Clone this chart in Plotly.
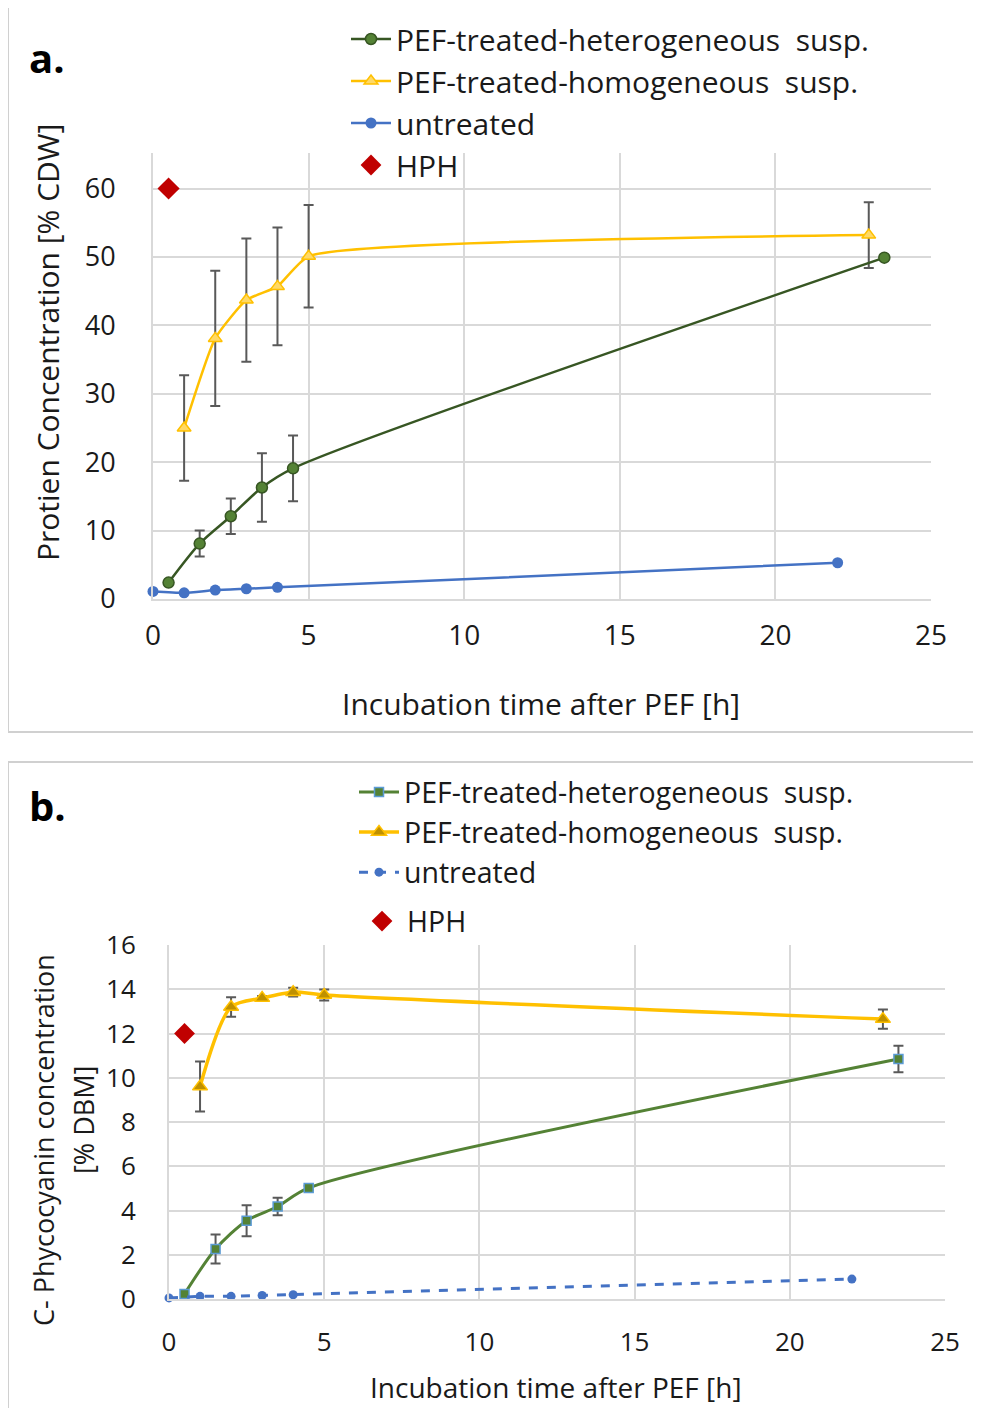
import plotly.graph_objects as go

# page body has an 8px margin, so the figure is sized to the remaining viewport
OX, OY = 8, 8
W, H = 981 - OX, 1408 - OY

# ---------------- data: panel a (protein) ----------------
a_het_x = [0.5, 1.5, 2.5, 3.5, 4.5, 23.5]
a_het_y = [2.4, 8.1, 12.1, 16.3, 19.1, 49.9]
a_het_err = [0, 1.9, 2.6, 5.0, 4.8, 0]

a_hom_x = [1, 2, 3, 4, 5, 23]
a_hom_y = [25.0, 38.1, 43.7, 45.7, 50.1, 53.2]
a_hom_err = [7.7, 9.9, 9.0, 8.6, 7.5, 4.8]

a_unt_x = [0, 1, 2, 3, 4, 22]
a_unt_y = [1.1, 0.9, 1.3, 1.5, 1.7, 5.3]

a_hph_x = [0.5]
a_hph_y = [60]

# ---------------- data: panel b (C-phycocyanin) ----------------
b_het_x = [0.5, 1.5, 2.5, 3.5, 4.5, 23.5]
b_het_y = [0.23, 2.26, 3.54, 4.18, 5.02, 10.85]
b_het_err = [0, 0.66, 0.7, 0.4, 0.1, 0.6]

b_hom_x = [1, 2, 3, 4, 5, 23]
b_hom_y = [9.6, 13.2, 13.6, 13.87, 13.74, 12.65]
b_hom_err = [1.13, 0.44, 0.1, 0.2, 0.25, 0.43]

b_unt_x = [0, 1, 2, 3, 4, 22]
b_unt_y = [0.05, 0.12, 0.12, 0.16, 0.19, 0.9]

b_hph_x = [0.5]
b_hph_y = [12.0]

x_ticks = [0, 5, 10, 15, 20, 25]
a_y_ticks = [0, 10, 20, 30, 40, 50, 60]
b_y_ticks = [0, 2, 4, 6, 8, 10, 12, 14, 16]

names = ["PEF-treated-heterogeneous\u00a0 susp.", "PEF-treated-homogeneous\u00a0 susp.",
         "untreated", "HPH"]

FONT = "Open Sans"
TXT = "#1a1a1a"
GRID = "#d9d9d9"
ERR = "#595959"


def fx(px):
    return (px - OX) / W


def fy(py):
    return 1 - (py - OY) / H


fig = go.Figure()


def err_trace(x, y, e, xa, ya):
    xs = [xi for xi, ei in zip(x, e) if ei > 0]
    ys = [yi for yi, ei in zip(y, e) if ei > 0]
    es = [ei for ei in e if ei > 0]
    return go.Scatter(x=xs, y=ys, mode="markers", marker=dict(size=1, color="rgba(0,0,0,0)"),
                      error_y=dict(type="data", array=es, visible=True, color=ERR,
                                   thickness=2, width=5),
                      xaxis=xa, yaxis=ya, showlegend=False, hoverinfo="skip", cliponaxis=False)


# ---- panel a ----
fig.add_trace(err_trace(a_hom_x, a_hom_y, a_hom_err, "x", "y"))
fig.add_trace(err_trace(a_het_x, a_het_y, a_het_err, "x", "y"))
fig.add_trace(go.Scatter(x=a_het_x, y=a_het_y, mode="lines+markers", name=names[0],
                         line=dict(color="#375623", width=2.5, shape="spline", smoothing=0.8),
                         marker=dict(symbol="circle", size=11, color="#548235",
                                     line=dict(color="#375623", width=1.5)),
                         xaxis="x", yaxis="y", legend="legend", legendgroup="a1", cliponaxis=False))
fig.add_trace(go.Scatter(x=a_hom_x, y=a_hom_y, mode="lines+markers", name=names[1],
                         line=dict(color="#FFC000", width=2.5, shape="spline", smoothing=0.5),
                         marker=dict(symbol="triangle-up", size=12, color="#FFD966",
                                     line=dict(color="#FFC000", width=1.5)),
                         xaxis="x", yaxis="y", legend="legend", legendgroup="a2", cliponaxis=False))
fig.add_trace(go.Scatter(x=a_unt_x, y=a_unt_y, mode="lines+markers", name=names[2],
                         line=dict(color="#4472C4", width=2.5, shape="spline", smoothing=0.5),
                         marker=dict(symbol="circle", size=11, color="#4472C4"),
                         xaxis="x", yaxis="y", legend="legend", legendgroup="a3", cliponaxis=False))
fig.add_trace(go.Scatter(x=a_hph_x, y=a_hph_y, mode="markers", name=names[3],
                         marker=dict(symbol="diamond", size=17, color="#C00000"),
                         xaxis="x", yaxis="y", legend="legend", legendgroup="a4", cliponaxis=False))

# ---- panel b ----
fig.add_trace(err_trace(b_hom_x, b_hom_y, b_hom_err, "x2", "y2"))
fig.add_trace(err_trace(b_het_x, b_het_y, b_het_err, "x2", "y2"))
fig.add_trace(go.Scatter(x=b_het_x, y=b_het_y, mode="lines+markers", name=names[0],
                         line=dict(color="#548235", width=3, shape="spline", smoothing=0.8),
                         marker=dict(symbol="square", size=9, color="#548235",
                                     line=dict(color="#5B9BD5", width=1.5)),
                         xaxis="x2", yaxis="y2", legend="legend2", legendgroup="b1", cliponaxis=False))
fig.add_trace(go.Scatter(x=b_hom_x, y=b_hom_y, mode="lines+markers", name=names[1],
                         line=dict(color="#FFC000", width=3.5, shape="spline", smoothing=0.8),
                         marker=dict(symbol="triangle-up", size=13, color="#BF9000",
                                     line=dict(color="#FFC000", width=1.5)),
                         xaxis="x2", yaxis="y2", legend="legend2", legendgroup="b2", cliponaxis=False))
fig.add_trace(go.Scatter(x=b_unt_x, y=b_unt_y, mode="lines+markers", name=names[2],
                         line=dict(color="#4472C4", width=3, dash="dash"),
                         marker=dict(symbol="circle", size=9, color="#4472C4"),
                         xaxis="x2", yaxis="y2", legend="legend2", legendgroup="b3", cliponaxis=False))
fig.add_trace(go.Scatter(x=b_hph_x, y=b_hph_y, mode="markers", name=names[3],
                         marker=dict(symbol="diamond", size=16, color="#C00000"),
                         xaxis="x2", yaxis="y2", legend="legend3", legendgroup="b4", cliponaxis=False))

axis_common = dict(showgrid=True, gridcolor=GRID, gridwidth=2, zeroline=False,
                   showline=True, linecolor=GRID, linewidth=2, ticks="", automargin=False)

# plot area pixel bounds (page coordinates)
A = dict(l=153, r=931, t=153, b=599)
B = dict(l=169, r=945, t=945, b=1299)


def ann(text, x, y, size, angle=0, bold=False):
    return dict(text=text, x=fx(x), y=fy(y), xref="paper", yref="paper", showarrow=False,
                xanchor="center", yanchor="middle", textangle=angle,
                font=dict(family=FONT, size=size, color="#000" if bold else TXT))


leg_common = dict(xanchor="left", yanchor="top", bgcolor="rgba(0,0,0,0)", itemwidth=40,
                  traceorder="normal")

fig.update_layout(
    template="none",
    width=W, height=H,
    margin=dict(l=0, r=0, t=0, b=0, pad=0, autoexpand=False),
    paper_bgcolor="white", plot_bgcolor="white",
    font=dict(family=FONT, color=TXT),
    xaxis=dict(domain=[fx(A["l"]), fx(A["r"])], range=[0, 25], tickvals=x_ticks,
               tickfont=dict(size=28, color=TXT), ticklabelstandoff=10, anchor="y", **axis_common),
    yaxis=dict(domain=[fy(A["b"]), fy(A["t"])], range=[0, 65.2], tickvals=a_y_ticks,
               tickfont=dict(size=27, color=TXT), ticklabelstandoff=30, anchor="x", **axis_common),
    xaxis2=dict(domain=[fx(B["l"]), fx(B["r"])], range=[0, 25], tickvals=x_ticks,
                tickfont=dict(size=26, color=TXT), ticklabelstandoff=19, anchor="y2", **axis_common),
    yaxis2=dict(domain=[fy(B["b"]), fy(B["t"])], range=[0, 16], tickvals=b_y_ticks,
                tickfont=dict(size=26, color=TXT), ticklabelstandoff=26, anchor="x2", **axis_common),
    legend=dict(x=fx(346), y=fy(13), font=dict(family=FONT, size=30, color=TXT),
                tracegroupgap=2, **leg_common),
    legend2=dict(x=fx(354), y=fy(767), font=dict(family=FONT, size=28.5, color=TXT),
                 tracegroupgap=5, **leg_common),
    legend3=dict(x=fx(357), y=fy(896), font=dict(family=FONT, size=28.5, color=TXT),
                 tracegroupgap=5, **leg_common),
    shapes=[
        dict(type="rect", xref="paper", yref="paper", x0=fx(8), x1=fx(980), y0=fy(732), y1=fy(7),
             line=dict(color="#d0d0d0", width=2), layer="below"),
        dict(type="rect", xref="paper", yref="paper", x0=fx(8), x1=fx(980), y0=fy(1420), y1=fy(762),
             line=dict(color="#d0d0d0", width=2), layer="below"),
    ],
    annotations=[
        ann("<b>a.</b>", 47, 58, 40, bold=True),
        ann("<b>b.</b>", 47, 805, 40, bold=True),
        ann("Incubation time after PEF [h]", 541, 703, 30),
        ann("Protien Concentration [% CDW]", 47, 343, 30, angle=-90),
        ann("Incubation time after PEF [h]", 556, 1387, 28),
        ann("C- Phycocyanin concentration", 43, 1140, 27, angle=-90),
        ann("[% DBM]", 83, 1120, 27, angle=-90),
    ],
)

fig.write_html("out.html")
